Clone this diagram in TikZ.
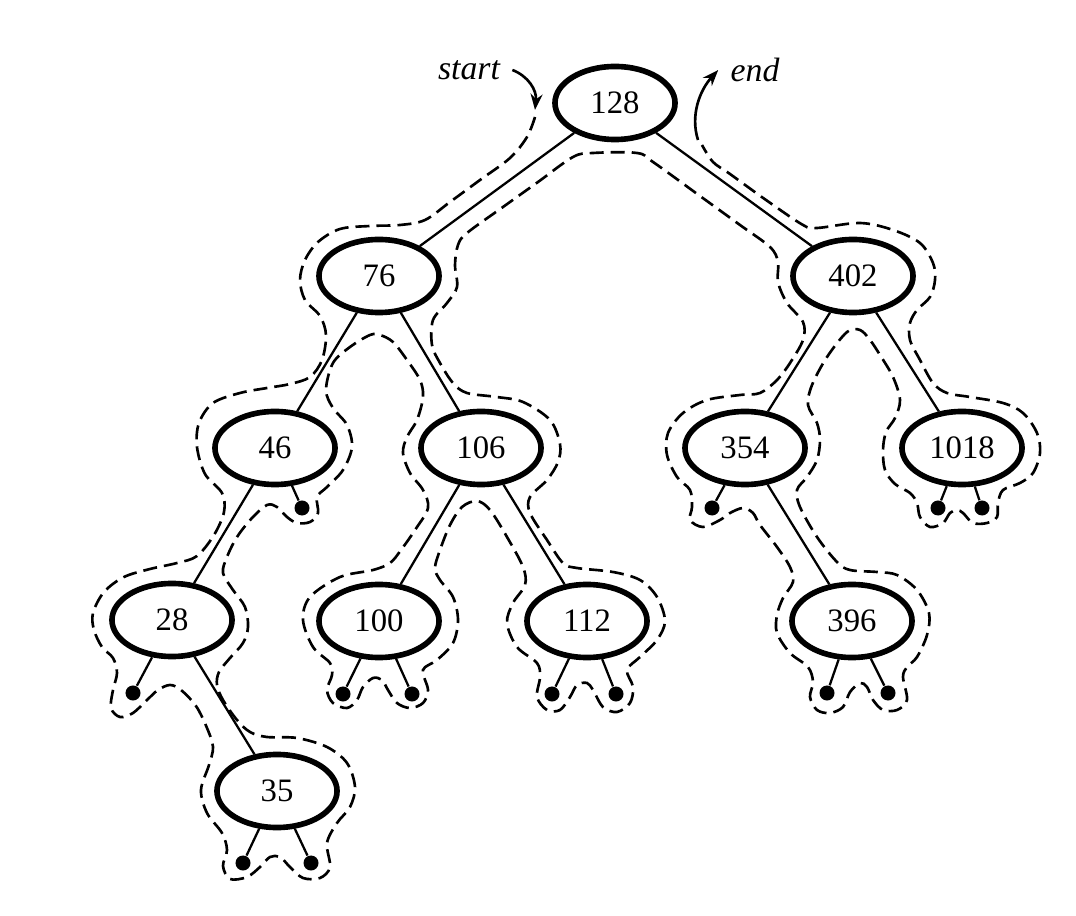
\documentclass[tikz,border=0pt]{standalone}
\usepackage{fontspec}
\setmainfont{Liberation Serif}
\usetikzlibrary{arrows.meta, shapes.geometric}
\tikzset{
  key/.style   = {ellipse, draw, line width=1.6pt, minimum width=1.2cm,
                  minimum height=0.73cm, inner sep=0pt,
                  font=\fontsize{9.3}{11}\selectfont},
  leaf/.style  = {circle, fill, inner sep=0pt, minimum size=0.15cm},
  edge/.style  = {line width=0.65pt},
  tour/.style  = {dash pattern=on 0.14cm off 0.07cm, line width=0.75pt},
  arrow/.style = {-{Stealth[length=0.16cm, width=0.12cm]}, line width=0.75pt},
  lbl/.style   = {font=\fontsize{9.6}{11}\selectfont\itshape},
}

\begin{document}
\begin{tikzpicture}[x=0.01cm, y=-0.01cm]
  \useasboundingbox (0,0) rectangle (1076,916);

  % keys
  \node[key] (R) at (615,103) {128};
  \node[key] (A) at (379,276) {76};
  \node[key] (B) at (853,276) {402};
  \node[key] (C) at (275,448) {46};
  \node[key] (D) at (481,448) {106};
  \node[key] (E) at (745,448) {354};
  \node[key] (F) at (962,448) {1018};
  \node[key] (G) at (172,620) {28};
  \node[key] (H) at (379,621) {100};
  \node[key] (I) at (587,621) {112};
  \node[key] (J) at (852,621) {396};
  \node[key] (K) at (277,791) {35};

  % empty subtrees
  \node[leaf] (c2) at (302,508) {};
  \node[leaf] (e1) at (712,508) {};
  \node[leaf] (f1) at (938,508) {};
  \node[leaf] (f2) at (982,508) {};
  \node[leaf] (g1) at (133,693) {};
  \node[leaf] (h1) at (343,694) {};
  \node[leaf] (h2) at (412,694) {};
  \node[leaf] (i1) at (552,694) {};
  \node[leaf] (i2) at (616,694) {};
  \node[leaf] (j1) at (827,693) {};
  \node[leaf] (j2) at (888,693) {};
  \node[leaf] (k1) at (243,863) {};
  \node[leaf] (k2) at (311,863) {};

  \draw[edge] (R) -- (A);
  \draw[edge] (R) -- (B);
  \draw[edge] (A) -- (C);
  \draw[edge] (A) -- (D);
  \draw[edge] (B) -- (E);
  \draw[edge] (B) -- (F);
  \draw[edge] (C) -- (G);
  \draw[edge] (C) -- (c2);
  \draw[edge] (D) -- (H);
  \draw[edge] (D) -- (I);
  \draw[edge] (E) -- (e1);
  \draw[edge] (E) -- (J);
  \draw[edge] (F) -- (f1);
  \draw[edge] (F) -- (f2);
  \draw[edge] (G) -- (g1);
  \draw[edge] (G) -- (K);
  \draw[edge] (H) -- (h1);
  \draw[edge] (H) -- (h2);
  \draw[edge] (I) -- (i1);
  \draw[edge] (I) -- (i2);
  \draw[edge] (J) -- (j1);
  \draw[edge] (J) -- (j2);
  \draw[edge] (K) -- (k1);
  \draw[edge] (K) -- (k2);

  % start and end of the walk
  \node[lbl] (startlbl) at (469,70) {start};
  \node[lbl] (endlbl) at (755,70) {end};
  \coordinate (tourin) at (535,110);
  \coordinate (tourout) at (698,140);
  \draw[arrow] (startlbl.east) .. controls (528,76) and (537,90) .. (tourin);
  \draw[arrow] (tourout) .. controls (690,115) and (700,90) .. (endlbl.west);

  % the walk round the tree
  \draw[tour] plot[smooth, tension=0.55] coordinates {
    (535,117) (527,137) (510,158) (480,180) (450,202) (425,220) (400,225)
    (370,226) (340,229) (318,242) (305,260) (300,280) (305,300) (320,316)
    (326,335) (322,360) (310,377) (290,384) (267,388) (240,393) (213,403)
    (199,423) (197,447) (205,474) (222,493) (224,512) (214,535) (197,556)
    (177,563) (150,569) (124,577) (104,592) (93,613) (94,630) (102,647)
    (113,658) (117,673) (113,690) (111,708) (120,717) (133,713) (147,700)
    (158,690) (170,685) (181,690) (196,706) (207,728) (213,747) (209,765)
    (201,790) (207,813) (222,833) (227,850) (223,866) (230,879) (247,877)
    (260,867) (270,857) (280,857) (290,867) (303,878) (320,878) (330,867)
    (327,843) (337,823) (350,807) (355,787) (347,763) (327,747) (297,738)
    (267,737) (250,732) (237,720) (223,700) (217,685) (219,672) (230,658)
    (243,643) (248,627) (245,607) (233,590) (223,573) (227,557) (237,537)
    (252,518) (267,505) (277,507) (287,517) (297,523) (310,522) (318,513)
    (317,497) (327,487) (343,470) (352,447) (347,425) (333,408) (326,390)
    (333,363) (350,347) (370,335) (380,335) (393,342) (407,360) (420,380)
    (423,397) (417,420) (407,437) (403,453) (410,473) (423,490) (428,508)
    (415,530) (401,550) (390,563) (373,570) (340,577) (310,597) (303,620)
    (313,647) (330,663) (332,675) (327,690) (333,703) (347,708) (357,700)
    (363,687) (373,678) (382,680) (388,690) (397,703) (410,708) (423,703)
    (428,690) (423,670) (437,660) (453,643) (458,620) (453,597) (440,580)
    (435,568) (440,550) (450,525) (462,507) (477,501) (490,510) (507,537)
    (523,567) (525,585) (513,603) (507,623) (517,647) (537,663) (540,677)
    (537,697) (547,710) (560,710) (570,697) (577,685) (587,683) (593,690)
    (603,707) (617,712) (630,703) (633,687) (627,670) (640,657) (657,640)
    (665,621) (657,597) (640,580) (613,572) (577,568) (563,563) (547,540)
    (530,513) (530,497) (547,480) (558,462) (560,444) (550,420) (523,402)
    (497,397) (467,393) (453,383) (440,363) (432,345) (433,320) (447,303)
    (457,287) (455,265) (458,245) (467,233) (503,207) (538,182) (573,157)
    (593,153) (637,153) (653,162) (700,196) (740,225) (770,247) (778,262)
    (778,282) (787,303) (803,322) (803,340) (790,363) (777,380) (760,393)
    (740,395) (707,400) (683,413) (668,433) (667,455) (677,477) (690,490)
    (692,507) (690,520) (703,527) (720,520) (730,513) (743,508) (753,513)
    (760,525) (777,547) (790,567) (793,582) (783,598) (777,615) (777,633)
    (790,653) (808,667) (813,682) (810,697) (817,710) (830,713) (843,707)
    (850,692) (860,683) (867,687) (873,700) (883,710) (897,710) (907,700)
    (903,677) (907,667) (917,657) (927,635) (929,613) (917,590) (897,575)
    (877,572) (850,570) (837,562) (817,537) (800,507) (797,490) (807,477)
    (817,460) (820,440) (817,423) (808,405) (812,385) (827,357) (847,332)
    (860,330) (870,340) (880,355) (893,377) (900,400) (895,418) (886,432)
    (883,450) (885,470) (895,484) (910,493) (917,503) (920,517) (930,527)
    (943,523) (950,513) (957,510) (963,513) (973,523) (987,523) (997,517)
    (998,503) (1003,490) (1020,483) (1033,473) (1040,453) (1037,433)
    (1023,413) (1003,403) (970,397) (947,393) (933,383) (920,360) (910,340)
    (910,323) (917,310) (930,297) (935,280) (933,263) (920,243) (893,230)
    (860,223) (817,228) (803,225) (766,200) (730,174) (713,162) (702,145)
  };
\end{tikzpicture}
\end{document}
